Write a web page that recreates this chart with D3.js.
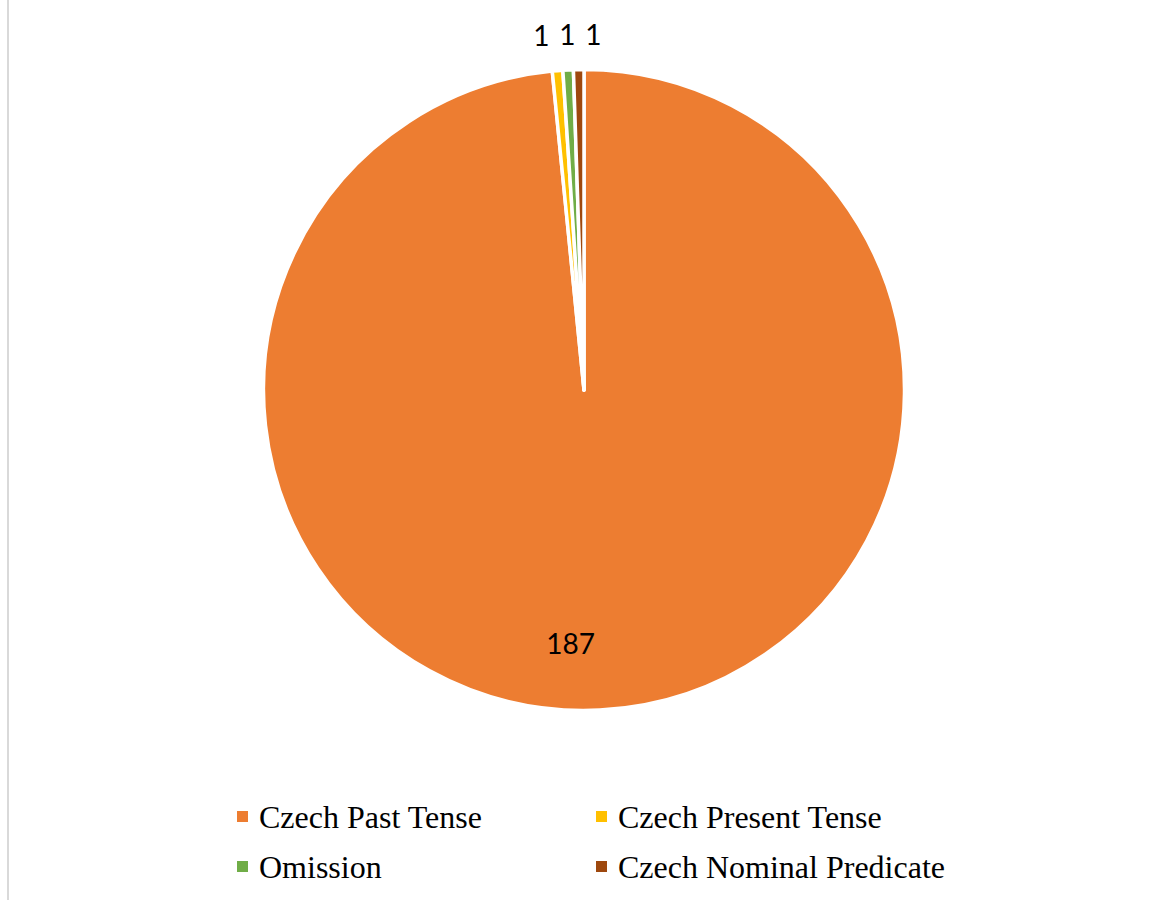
<!DOCTYPE html>
<html>
<head>
<meta charset="utf-8">
<script src="https://cdn.jsdelivr.net/npm/d3@7"></script>
<style>
  html, body { margin: 0; padding: 0; background: #ffffff; }
  svg { display: block; }
</style>
</head>
<body>
<svg id="chart" width="1155" height="900"></svg>
<script>
// Translation categories and their counts
const categories = ["Czech Past Tense", "Czech Present Tense", "Omission", "Czech Nominal Predicate"];
const counts = [187, 1, 1, 1];
const colors = ["#ED7D31", "#FFC000", "#70AD47", "#9E480E"];

const W = 1155, H = 900;
const cx = 584, cy = 390, radius = 320.5;

const svg = d3.select("#chart");

// Thin frame line on the left edge
svg.append("line")
  .attr("x1", 8).attr("x2", 8)
  .attr("y1", 0).attr("y2", H)
  .attr("stroke", "#d9d9d9").attr("stroke-width", 2);

const data = categories.map((c, i) => ({ name: c, value: counts[i], color: colors[i] }));

const pie = d3.pie().value(d => d.value).sort(null);
const arcs = pie(data);
const arc = d3.arc().innerRadius(0).outerRadius(radius);

const g = svg.append("g").attr("transform", `translate(${cx},${cy})`);

g.selectAll("path.slice")
  .data(arcs)
  .join("path")
  .attr("class", "slice")
  .attr("d", arc)
  .attr("fill", d => d.data.color)
  .attr("stroke", "#ffffff")
  .attr("stroke-width", 3.5)
  .attr("stroke-linejoin", "round");

// Labels: large slice inside, small slices outside the rim
const insideArc = d3.arc().innerRadius(radius * 0.79).outerRadius(radius * 0.79);
const outsideR = radius + 36;

const big = arcs.filter(a => a.value >= 10);
const small = arcs.filter(a => a.value < 10);

g.selectAll("text.inside")
  .data(big)
  .join("text")
  .attr("class", "inside")
  .attr("x", d => insideArc.centroid(d)[0])
  .attr("y", d => insideArc.centroid(d)[1])
  .attr("dx", -26)
  .attr("text-anchor", "middle")
  .attr("dominant-baseline", "central")
  .attr("font-family", "Lato, 'Open Sans', sans-serif")
  .attr("font-size", 28)
  .attr("fill", "#000")
  .text(d => d.value);

// Spread the outside labels so they do not collide
const minGap = 26;
const outside = small.map(d => {
  const a = (d.startAngle + d.endAngle) / 2;
  return { d, x: Math.sin(a) * outsideR, y: -Math.cos(a) * outsideR };
});
const meanX = d3.mean(outside, o => o.x);
outside.forEach((o, i) => { o.x = meanX + 1 + (i - (outside.length - 1) / 2) * minGap; });

g.selectAll("text.outside")
  .data(outside)
  .join("text")
  .attr("class", "outside")
  .attr("x", o => o.x)
  .attr("y", o => o.y)
  .attr("text-anchor", "middle")
  .attr("dominant-baseline", "central")
  .attr("font-family", "Lato, 'Open Sans', sans-serif")
  .attr("font-size", 28)
  .attr("fill", "#000")
  .text(o => o.d.value);

// Legend: two columns, two rows
const legendCols = [237, 596];
const legendRows = [817, 867];
const legend = svg.append("g");
const items = legend.selectAll("g.item")
  .data(data)
  .join("g")
  .attr("class", "item")
  .attr("transform", (d, i) => `translate(${legendCols[i % 2]},${legendRows[Math.floor(i / 2)]})`);

items.append("rect")
  .attr("x", 0).attr("y", -6)
  .attr("width", 11).attr("height", 11)
  .attr("fill", d => d.color);

items.append("text")
  .attr("x", 22).attr("y", 11)
  .attr("font-family", "'Liberation Serif', 'Times New Roman', serif")
  .attr("font-size", 32)
  .attr("fill", "#000")
  .text(d => d.name);
</script>
</body>
</html>
